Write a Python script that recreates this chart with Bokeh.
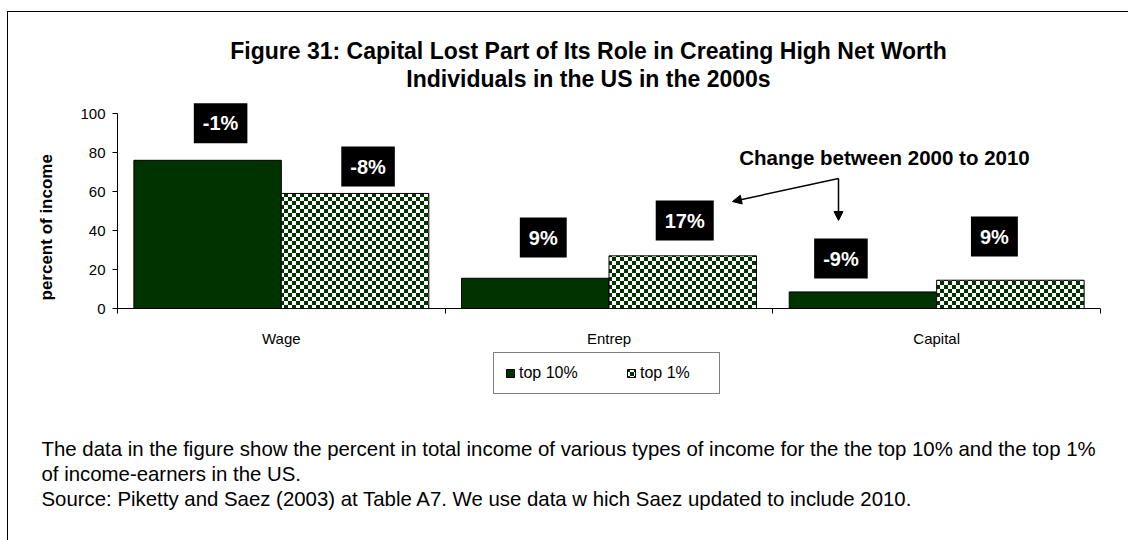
import base64
from bokeh.plotting import figure
from bokeh.layouts import column
from bokeh.models import (FactorRange, Range1d, LinearAxis, FixedTicker, Label, Arrow, NormalHead,
                          Legend, LegendItem, ImageURLTexture, ColumnDataSource, Title)
from bokeh.core.properties import value
from bokeh.transform import dodge
from bokeh.embed import file_html
from bokeh.resources import INLINE

# ---------------- data ----------------
categories = ["Wage", "Entrep", "Capital"]
series_names = ["top 10%", "top 1%"]
top10 = [76.0, 15.5, 8.5]
top1 = [59.0, 27.0, 14.5]
change_top10 = ["-1%", "9%", "-9%"]
change_top1 = ["-8%", "17%", "9%"]
y_ticks = [0, 20, 40, 60, 80, 100]
y_title = "percent of income"
title_lines = ["Figure 31: Capital Lost Part of Its Role in Creating High Net Worth",
               "Individuals in the US in the 2000s"]
annotation_text = "Change between 2000 to 2010"
note_lines = ["The data in the figure show  the percent in total income of various types of income for the the top 10% and the top 1%",
              "of income-earners in the US.",
              "Source: Piketty and Saez (2003) at Table A7. We use data w hich Saez updated to include 2010."]

# ---------------- layout / style ----------------
FONT = "Liberation Sans"
OX, OY = 8, 12                 # page position of the content (after margin + border)
W = 1120
FL, FR = 109, 1092             # main frame left / right in canvas px
TOP_PAD = 12                   # frame px above the 100 line
FRAME_H = 195 + TOP_PAD
BELOW = 42                     # room for the category labels
H_TOP = 101 - OY               # title strip: page 12 .. 101
H_MAIN = FRAME_H + BELOW       # page 101 .. 350
H_BOT = 540 - (OY + H_TOP + H_MAIN)
BOT_Y0 = OY + H_TOP + H_MAIN   # page y of the bottom strip's top
GREEN = "#003300"
BW = 0.45
lab_y10 = [95.0, 36.4, 25.6]
lab_y1 = [72.8, 45.1, 36.9]
lab_dx10 = [13, 8, -22]
lab_dx1 = [13, 2, -16]

Y0_PAGE = 308                  # page y of value 0
X0_PAGE = OX + FL              # page x of frame left


def sx(px):  # page x -> main-frame screen x
    return px - X0_PAGE


def sy(py):  # page y -> main-frame screen y (up from frame bottom)
    return Y0_PAGE - py


def blank(h):
    f = figure(width=W, height=h, x_range=Range1d(0, W), y_range=Range1d(h, 0),
               x_axis_type=None, y_axis_type=None, output_backend="svg",
               toolbar_location=None, min_border=0, frame_align=False)
    f.outline_line_color = None
    f.background_fill_color = "white"
    f.border_fill_color = "white"
    return f


# ---------------- title strip ----------------
p_top = blank(H_TOP)
p_top.text(x=[588 - OX] * 2, y=[50 - OY, 78 - OY], text=title_lines,
           text_align="center", text_baseline="middle", text_color="black",
           text_font=value(FONT), text_font_size="23px", text_font_style="bold")

# ---------------- main chart ----------------
p = figure(width=W, height=H_MAIN,
           x_range=FactorRange(*categories), y_range=(0, 100 * FRAME_H / 195),
           x_axis_type=None, output_backend="svg", toolbar_location=None,
           min_border_left=FL, min_border_right=W - FR,
           min_border_top=0, min_border_bottom=BELOW, frame_align=False)
p.outline_line_color = None
p.ygrid.grid_line_color = None
p.background_fill_color = "white"
p.border_fill_color = "white"

ya = p.yaxis[0]
ya.ticker = FixedTicker(ticks=y_ticks)
ya.bounds = (y_ticks[0], y_ticks[-1])
ya.major_tick_out = 5
ya.major_tick_in = 0
ya.minor_tick_line_color = None
ya.axis_line_color = "black"
ya.major_tick_line_color = "black"
ya.major_label_text_font = FONT
ya.major_label_text_font_size = "15px"
ya.major_label_text_color = "black"
ya.major_label_standoff = 7
p.add_layout(Title(text=y_title, align="left", offset=8, standoff=44,
                   text_font=FONT, text_font_size="17px", text_font_style="bold",
                   text_color="black"), "left")

xa = LinearAxis(ticker=FixedTicker(ticks=[i + 0.5 for i in range(len(categories))],
                                   minor_ticks=list(range(len(categories) + 1))),
                major_label_overrides={i + 0.5: c for i, c in enumerate(categories)})
xa.major_tick_line_color = None
xa.major_tick_out = 0
xa.major_tick_in = 0
xa.minor_tick_out = 5
xa.minor_tick_in = 0
xa.minor_tick_line_color = "black"
xa.axis_line_color = "black"
xa.major_label_text_font = FONT
xa.major_label_text_font_size = "15px"
xa.major_label_text_color = "black"
xa.major_label_standoff = 16
p.add_layout(xa, "below")

tile = ("<svg xmlns='http://www.w3.org/2000/svg' width='8' height='8'>"
        "<rect width='8' height='8' fill='white'/>"
        "<rect width='4' height='4' fill='%s'/>"
        "<rect x='4' y='4' width='4' height='4' fill='%s'/></svg>") % (GREEN, GREEN)
checker_url = "data:image/svg+xml;base64," + base64.b64encode(tile.encode()).decode()
style10 = dict(fill_color=GREEN, line_color="black", line_width=1)
style1 = dict(fill_color="white", line_color="black", line_width=1,
              hatch_pattern=value("checker"),
              hatch_extra={"checker": ImageURLTexture(url=checker_url)},
              hatch_color=GREEN, hatch_alpha=1.0)

src = ColumnDataSource(dict(cat=categories, top10=top10, top1=top1))
p.vbar(x=dodge("cat", -BW / 2, range=p.x_range), top="top10", width=BW, source=src, **style10)
p.vbar(x=dodge("cat", BW / 2, range=p.x_range), top="top1", width=BW, source=src, **style1)

for i in range(len(categories)):
    for txt, yy, dx, off in ((change_top10[i], lab_y10[i], lab_dx10[i], -BW / 2),
                             (change_top1[i], lab_y1[i], lab_dx1[i], BW / 2)):
        p.add_layout(Label(x=i + 0.5 + off, y=yy, x_offset=dx, text=txt,
                           text_font=FONT, text_font_size="20px", text_font_style="bold",
                           text_color="white", text_align="center", text_baseline="middle",
                           background_fill_color="black", padding=9))

p.add_layout(Label(x=sx(884), y=sy(157), x_units="screen", y_units="screen", text=annotation_text,
                   text_font=FONT, text_font_size="20.5px", text_font_style="bold",
                   text_color="black", text_align="center", text_baseline="middle"))
for ex, ey in ((732, 201), (838, 220)):
    p.add_layout(Arrow(x_start=sx(838), y_start=sy(178), x_end=sx(ex), y_end=sy(ey),
                       start_units="screen", end_units="screen", line_width=1.5, line_color="black",
                       end=NormalHead(size=9, fill_color="black", line_color="black")))

# ---------------- legend + notes strip ----------------
p_bot = blank(H_BOT)
# hidden key renderers (same data and styling as the bars) used only for the legend swatches
k10 = p_bot.vbar(x=dodge("cat", -BW / 2, range=p.x_range), top="top10", width=BW,
                 source=src, visible=False, **style10)
k1 = p_bot.vbar(x=dodge("cat", BW / 2, range=p.x_range), top="top1", width=BW,
                source=src, visible=False, **style1)
legend = Legend(items=[LegendItem(label=series_names[0], renderers=[k10]),
                       LegendItem(label=series_names[1], renderers=[k1])],
                orientation="horizontal", location=(493 - OX, H_BOT - (394 - BOT_Y0)),
                label_text_font=FONT, label_text_font_size="16px", label_text_color="black",
                glyph_width=10, glyph_height=10, label_standoff=4, spacing=39,
                label_width=68, label_height=17,
                padding=11, margin=0, border_line_color="black", border_line_width=1,
                background_fill_color="white", background_fill_alpha=1.0)
p_bot.add_layout(legend)
p_bot.text(x=[41 - OX] * 3, y=[py - BOT_Y0 for py in (448, 473, 498)], text=note_lines,
           text_align="left", text_baseline="middle", text_color="black",
           text_font=value(FONT), text_font_size="20.4px")

page = column(p_top, p, p_bot, spacing=0,
              styles={"margin-left": "7px", "margin-top": "11px",
                      "border-left": "1px solid black", "border-top": "1px solid black"})

open("out.html", "w").write(file_html(page, INLINE))
